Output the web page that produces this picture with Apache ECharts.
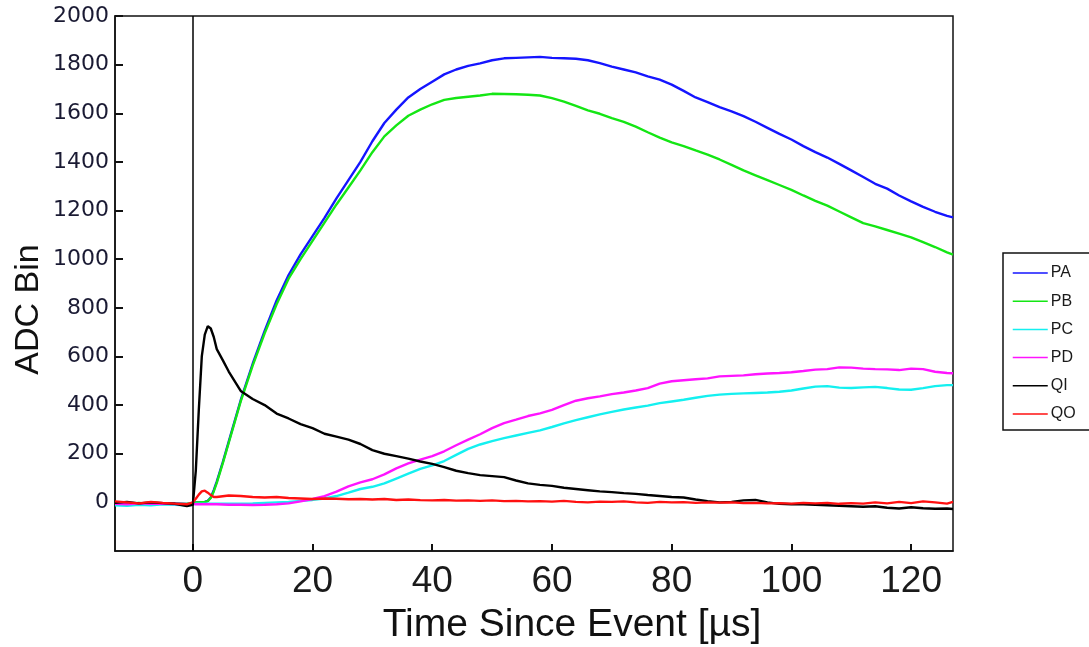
<!DOCTYPE html>
<html>
<head>
<meta charset="utf-8">
<title>ADC Bin vs Time Since Event</title>
<script src="https://cdn.jsdelivr.net/npm/echarts@6/dist/echarts.min.js"></script>
<style>
  html, body { margin: 0; padding: 0; background: #ffffff; }
  #chart { width: 1089px; height: 647px; }
</style>
</head>
<body>
<div id="chart"></div>
<script>
// Sample times in microseconds (finer around the trigger at t = 0)
const timeUs = [
  -13, -11, -9, -7, -5, -3, -1, 0,
  0.5, 1, 1.5, 2, 2.5, 3, 3.5, 4, 5,
  6, 8, 10, 12, 14, 16, 18, 20, 22, 24, 26, 28, 30, 32, 34, 36, 38, 40, 42, 44, 46,
  48, 50, 52, 54, 56, 58, 60, 62, 64, 66, 68, 70, 72, 74, 76, 78, 80, 82, 84, 86, 88,
  90, 92, 94, 96, 98, 100, 102, 104, 106, 108, 110, 112, 114, 116, 118, 120, 122, 124, 126,
  127
];

const seriesNames = ['PA', 'PB', 'PC', 'PD', 'QI', 'QO'];
const seriesColors = ['#1515ff', '#14e614', '#14f0f0', '#ff14ff', '#000000', '#ff1010'];

const PA = [
  -6, -3, -8, -2, -5, -4, -7, -2,
  0, 0, 1, 2, 6, 20, 50, 85, 165,
  250, 420, 570, 705, 830, 935, 1020, 1095, 1170, 1250, 1325, 1400, 1485, 1560, 1615, 1665, 1700, 1730, 1760, 1780, 1795,
  1805, 1818, 1826, 1828, 1830, 1832, 1828, 1826, 1824, 1818, 1806, 1792, 1780, 1768, 1752, 1738, 1718, 1692, 1665, 1646, 1625,
  1608, 1588, 1565, 1540, 1515, 1492, 1465, 1440, 1418, 1392, 1365, 1338, 1310, 1290, 1262, 1238, 1215, 1195, 1178,
  1172
];
const PB = [
  -4, -8, -2, -6, -3, -7, -5, -3,
  0, 0, 1, 2, 5, 18, 45, 80, 160,
  245, 415, 562, 695, 815, 920, 1000, 1075, 1150, 1225, 1295, 1365, 1440, 1505, 1550, 1590, 1615, 1637, 1655, 1663, 1668,
  1673, 1680, 1679, 1678, 1676, 1673, 1662, 1648, 1630, 1612, 1598, 1580, 1565, 1545, 1522, 1500, 1480, 1465, 1447, 1430, 1410,
  1388, 1365, 1345, 1325, 1305, 1285, 1262, 1240, 1220, 1196, 1172, 1148, 1135, 1120, 1105, 1090, 1070, 1050, 1028,
  1019
];
const PC = [
  -12, -14, -10, -12, -8, -10, -12, -8,
  -6, -6, -6, -6, -6, -6, -6, -6, -6,
  -6, -5, -4, -2, 0, 2, 6, 10, 16, 26, 40, 55, 64, 78, 98, 118, 138, 152, 170, 195, 220,
  238, 252, 264, 275, 286, 296, 310, 325, 338, 350, 362, 372, 382, 390, 398, 408, 415, 422, 430, 438, 443,
  446, 448, 450, 452, 455, 460, 468, 476, 478, 472, 470, 473, 475, 470, 464, 463, 470, 478, 482,
  482
];
const PD = [
  -6, -8, -4, -6, -5, -7, -8, -5,
  -8, -8, -8, -8, -8, -8, -8, -8, -9,
  -10, -10, -11, -10, -8, -4, 4, 14, 26, 44, 66, 82, 95, 115, 140, 160, 176, 190, 210, 235, 258,
  280, 305, 326, 340, 355, 366, 380, 400, 418, 428, 436, 445, 452, 460, 470, 488, 498, 502, 506, 510, 518,
  520, 522, 527, 530, 532, 535, 540, 546, 548, 555, 554, 550, 548, 547, 544, 550, 548, 537, 532,
  531
];
const QI = [
  -2, 2, -4, 0, -3, -6, -15, -10,
  130, 380, 600, 690, 725, 715, 680, 630, 585,
  538, 458, 425, 400, 365, 345, 322, 305, 282, 270, 258, 240, 215, 200, 190, 180, 168, 158, 145, 130, 120,
  112, 108, 104, 90, 78, 72, 68, 60, 55, 50, 45, 42, 38, 35, 30, 26, 22, 20, 12, 5, 0,
  2, 8, 10, 0, -6, -8, -8, -10, -12, -14, -16, -18, -16, -22, -25, -20, -24, -26, -25,
  -27
];
const QO = [
  4, 0, -4, 2, -2, -5, -8, 0,
  15, 32, 45, 48, 40, 30, 22, 22, 25,
  28, 26, 22, 20, 22, 18, 16, 14, 16, 15, 13, 14, 12, 14, 10, 12, 9, 8, 10, 7, 8,
  6, 8, 5, 6, 4, 5, 3, 6, 2, 0, 3, 2, 4, 0, -2, 2, 0, 1, -2, 0, -1,
  0, -3, -2, -4, -3, -5, -2, -4, -2, -6, -3, -5, 0, -4, 2, -3, 4, 0, -5,
  2
];

const xTickValues = [0, 20, 40, 60, 80, 100, 120];
const yTickValues = [0, 200, 400, 600, 800, 1000, 1200, 1400, 1600, 1800, 2000];

const seriesValues = [PA, PB, PC, PD, QI, QO];

const chart = echarts.init(document.getElementById('chart'), null, { renderer: 'canvas' });

const series = seriesNames.map((name, k) => ({
  name: name,
  type: 'line',
  symbol: 'none',
  smooth: false,
  data: timeUs.map((t, i) => [t, seriesValues[k][i]]),
  lineStyle: { color: seriesColors[k], width: 2.4 },
  itemStyle: { color: seriesColors[k] },
  emphasis: { disabled: true }
}));

// trigger marker at t = 0
series[0].markLine = {
  silent: true,
  symbol: ['none', 'none'],
  label: { show: false },
  lineStyle: { color: '#000000', width: 1.5, type: 'solid' },
  data: [{ xAxis: 0 }]
};

chart.setOption({
  animation: false,
  backgroundColor: '#ffffff',
  grid: {
    left: 115, right: 136, top: 16, bottom: 96,
    outerBoundsMode: 'none',
    containLabel: false,
    show: true, borderColor: '#111111', borderWidth: 1.5, backgroundColor: 'transparent'
  },
  legend: {
    orient: 'vertical',
    left: 1003,
    top: 253,
    padding: [12, 24, 8, 9],
    itemGap: 12.2,
    itemWidth: 35,
    itemHeight: 14,
    borderColor: '#111111',
    borderWidth: 1.5,
    borderRadius: 0,
    itemStyle: { opacity: 0 },
    lineStyle: { width: 1.5 },
    textStyle: { fontFamily: '"Liberation Sans", Arial, sans-serif', fontSize: 16, color: '#1a1a1a', padding: [0, 0, 0, -2] },
    data: seriesNames
  },
  xAxis: {
    type: 'value',
    min: -13,
    max: 127,
    name: 'Time Since Event [µs]',
    nameLocation: 'middle',
    nameGap: 55,
    nameMoveOverlap: false,
    nameTextStyle: {
      fontFamily: '"Liberation Sans", Arial, sans-serif', fontSize: 39, color: '#111111',
      padding: [0, 0, 0, 76]
    },
    axisLine: { show: true, onZero: false, lineStyle: { color: '#111111', width: 1.5 } },
    axisTick: {
      show: true, inside: true, length: 7, customValues: xTickValues,
      lineStyle: { color: '#111111', width: 2 }
    },
    axisLabel: {
      customValues: xTickValues,
      margin: 12,
      formatter: (v) => String(v),
      fontFamily: '"Liberation Sans", Arial, sans-serif', fontSize: 37, color: '#1a1a1a'
    },
    splitLine: { show: false }
  },
  yAxis: {
    type: 'value',
    min: -200,
    max: 2000,
    interval: 200,
    name: 'ADC Bin',
    nameLocation: 'middle',
    nameGap: 69,
    nameRotate: 90,
    nameMoveOverlap: false,
    nameTextStyle: {
      fontFamily: '"Liberation Sans", Arial, sans-serif', fontSize: 34, color: '#111111',
      padding: [0, 52, 0, 0]
    },
    axisLine: { show: true, onZero: false, lineStyle: { color: '#111111', width: 1.5 } },
    axisTick: {
      show: true, inside: true, length: 8, customValues: yTickValues,
      lineStyle: { color: '#111111', width: 2 }
    },
    axisLabel: {
      customValues: yTickValues,
      margin: 6,
      formatter: (v) => String(v),
      fontFamily: '"DejaVu Sans", sans-serif', fontSize: 22, color: '#1a1a33'
    },
    splitLine: { show: false }
  },
  series: series
});
</script>
</body>
</html>
